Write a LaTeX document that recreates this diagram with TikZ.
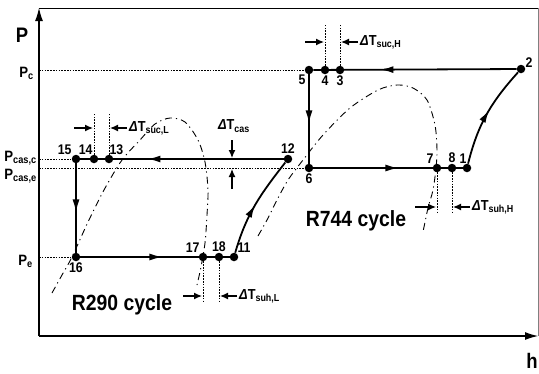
\documentclass[tikz,border=0pt]{standalone}
\usepackage{fontspec}
\setmainfont{Liberation Sans}[FakeStretch=0.88]
\usetikzlibrary{arrows.meta,decorations.markings,calc}

\newcommand{\dT}[1]{\textit{Δ}T\textsubscript{#1}}

\tikzset{
  cyc/.style={line width=1.8pt},
  dot/.style={circle, fill, inner sep=0pt, minimum size=8.5pt},
  num/.style={font=\fontsize{14}{14}\selectfont\bfseries, inner sep=1.2pt},
  guide/.style={line width=0.8pt, dash pattern=on 1.6pt off 1.2pt},
  dome/.style={line width=0.9pt, dash pattern=on 7pt off 4pt on 1.2pt off 4pt},
  midarrow/.style={postaction={decorate}, decoration={markings,
      mark=at position #1 with {\arrow{Latex[length=13pt,width=7pt]}}}},
  dimarr/.style={line width=1.3pt, -{Latex[length=8pt,width=7pt]}},
  plabel/.style={font=\fontsize{15}{15}\selectfont\bfseries, anchor=east, inner sep=1pt},
  dlabel/.style={font=\fontsize{14.5}{14.5}\selectfont\bfseries, anchor=west, inner sep=1pt},
}

\begin{document}
\begin{tikzpicture}[x=1pt, y=-1pt, font=\bfseries]
  \useasboundingbox (0,0) rectangle (539,373);

  % frame and axes
  \coordinate (o) at (39,336);
  \coordinate (ytop) at (39,8);
  \coordinate (xend) at (538,336);
  \coordinate (corner) at (538,8);
  \draw[line width=0.8pt] (ytop) -- (corner);
  \draw[line width=0.4pt, gray] (corner) -- (xend);
  \draw[line width=1.1pt, -{Latex[length=13pt,width=8pt]}] (o) -- (ytop);
  \draw[line width=1.1pt, -{Latex[length=13pt,width=8pt]}] (o) -- (xend);
  \node[font=\fontsize{21}{21}\selectfont\bfseries] (plab) at (22,35) {P};
  \node[font=\fontsize{21}{21}\selectfont\bfseries] (hlab) at (532,361) {h};

  % saturation domes
  \draw[dome] plot[smooth] coordinates {(52,293) (62,275) (72,257) (88,222) (104,190)
    (122,160) (140,140) (155,124) (170,118) (185,122) (198,140) (205,162) (208,190)
    (207,215) (205,243) (201,267) (197,285)};
  \draw[dome] plot[smooth] coordinates {(258,236) (267,220) (277,200) (288,180)
    (303,160) (323,135) (350,108) (378,90) (397,85) (413,88) (427,100) (435,125)
    (437,150) (436,168) (433,190) (428,208) (423,232)};

  % state points
  \node[dot, label={[num]above left:15}] (p15) at (76,159) {};
  \node[dot, label={[num, xshift=3pt]above left:14}] (p14) at (94,159) {};
  \node[dot, label={[num, xshift=-4pt]above right:13}] (p13) at (109,159) {};
  \node[dot, label={[num]above:12}] (p12) at (288,159) {};
  \node[dot, label={[num]below:16}] (p16) at (76,257) {};
  \node[dot, label={[num, xshift=1pt]above left:17}] (p17) at (203,257) {};
  \node[dot, label={[num]above:18}] (p18) at (219,257) {};
  \node[dot, label={[num, xshift=-1pt]above right:11}] (p11) at (234,257) {};
  \node[dot, label={[num, xshift=1pt]below left:5}] (p5) at (309,70) {};
  \node[dot, label={[num]below:4}] (p4) at (325,70) {};
  \node[dot, label={[num]below:3}] (p3) at (340,70) {};
  \node[dot, label={[num, yshift=-3pt]above right:2}] (p2) at (521,69) {};
  \node[dot, label={[num]below:6}] (p6) at (309,168) {};
  \node[dot, label={[num, xshift=1pt]above left:7}] (p7) at (437,168) {};
  \node[dot, label={[num]above:8}] (p8) at (452,168) {};
  \node[dot, label={[num, xshift=4pt]above left:1}] (p1) at (467,168) {};

  % pressure levels
  \node[plabel] (lpc) at (35,73) {P\textsubscript{c}};
  \node[plabel] (lpcasc) at (38,158) {P\textsubscript{cas,c}};
  \node[plabel] (lpcase) at (38,176) {P\textsubscript{cas,e}};
  \node[plabel] (lpe) at (34,261) {P\textsubscript{e}};
  \draw[guide] (o |- p5) -- (p5);
  \draw[guide] (o |- p15) -- (p15);
  \draw[guide] (o |- p6) -- (p6);
  \draw[guide] (o |- p16) -- (p16);

  % R290 cycle
  \draw[cyc, midarrow=0.55] (p15) -- (p16);
  \draw[cyc, midarrow=0.55] (p16) -- (p11);
  \draw[cyc, midarrow=0.5] (p11) to[out=74, in=232] (p12);
  \draw[cyc, midarrow=0.67] (p12) -- (p15);

  % R744 cycle
  \draw[cyc, midarrow=0.55] (p5) -- (p6);
  \draw[cyc, midarrow=0.57] (p6) -- (p1);
  \draw[cyc, midarrow=0.55] (p1) to[out=76, in=228] (p2);
  \draw[cyc, midarrow=0.67] (p2) -- (p5);

  % superheat / subcooling marks
  \coordinate (g14) at (p14 |- 0,113);
  \coordinate (g13) at (p13 |- 0,113);
  \coordinate (g4) at (p4 |- 0,25);
  \coordinate (g3) at (p3 |- 0,25);
  \coordinate (g17) at (p17 |- 0,302);
  \coordinate (g18) at (p18 |- 0,302);
  \coordinate (g7) at (p7 |- 0,212);
  \coordinate (g8) at (p8 |- 0,212);
  \draw[guide] (p14) -- (g14);
  \draw[guide] (p13) -- (g13);
  \draw[guide] (p4) -- (g4);
  \draw[guide] (p3) -- (g3);
  \draw[guide] (p17) -- (g17);
  \draw[guide] (p18) -- (g18);
  \draw[guide] (p7) -- (g7);
  \draw[guide] (p8) -- (g8);

  \coordinate (a14) at ($(p14 |- 0,128)+(-1,0)$);
  \coordinate (a13) at ($(p13 |- 0,128)+(1,0)$);
  \coordinate (a4) at ($(p4 |- 0,42)+(-1,0)$);
  \coordinate (a3) at ($(p3 |- 0,42)+(1,0)$);
  \coordinate (a17) at ($(p17 |- 0,296)+(-1,0)$);
  \coordinate (a18) at ($(p18 |- 0,296)+(1,0)$);
  \coordinate (a7) at ($(p7 |- 0,207)+(-1,0)$);
  \coordinate (a8) at ($(p8 |- 0,207)+(1,0)$);
  \draw[dimarr] ([xshift=-19pt]a14) -- (a14);
  \draw[dimarr] ([xshift=17pt]a13) -- (a13);
  \draw[dimarr] ([xshift=-19pt]a4) -- (a4);
  \draw[dimarr] ([xshift=17pt]a3) -- (a3);
  \draw[dimarr] ([xshift=-19pt]a17) -- (a17);
  \draw[dimarr] ([xshift=17pt]a18) -- (a18);
  \draw[dimarr] ([xshift=-21pt]a7) -- (a7);
  \draw[dimarr] ([xshift=17pt]a8) -- (a8);
  \node[dlabel] (tsucl) at ([xshift=18pt]a13) {\dT{suc,L}};
  \node[dlabel] (tsuch) at ([xshift=18pt]a3) {\dT{suc,H}};
  \node[dlabel] (tsuhl) at ([xshift=18pt]a18) {\dT{suh,L}};
  \node[dlabel] (tsuhh) at ([xshift=18pt]a8) {\dT{suh,H}};

  % cascade temperature difference
  \coordinate (c1) at (232,158);
  \coordinate (c2) at (232,169);
  \draw[dimarr] ([yshift=18pt]c1) -- (c1);
  \draw[dimarr] ([yshift=-20pt]c2) -- (c2);
  \node[font=\fontsize{14.5}{14.5}\selectfont\bfseries] (tcas) at (234,126) {\dT{cas}};

  % cycle names
  \node[font=\fontsize{22}{22}\selectfont\bfseries] (r290) at (122,305) {R290 cycle};
  \node[font=\fontsize{22}{22}\selectfont\bfseries] (r744) at (356,221) {R744 cycle};
\end{tikzpicture}
\end{document}
